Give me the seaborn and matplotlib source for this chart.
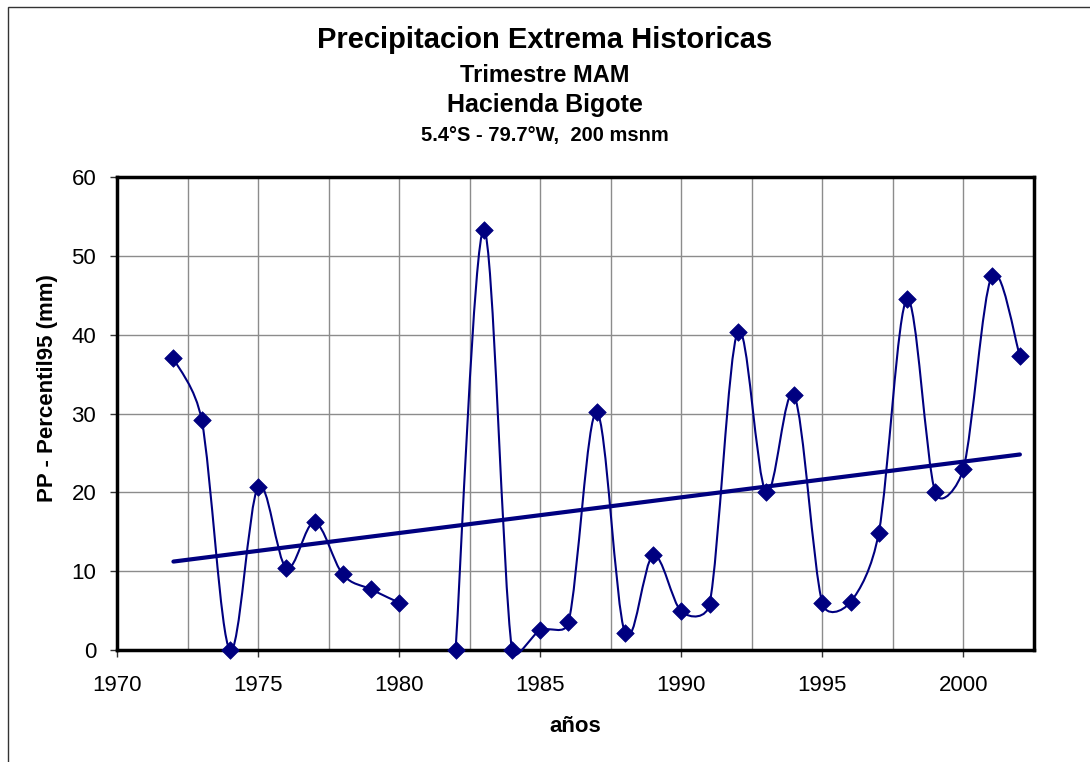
import numpy as np
import matplotlib
matplotlib.use("Agg")
import matplotlib.pyplot as plt
from matplotlib.path import Path
from matplotlib.patches import PathPatch, Rectangle
import seaborn as sns

# Datos (1981 sin dato)
anios = [1972, 1973, 1974, 1975, 1976, 1977, 1978, 1979, 1980,
         1982, 1983, 1984, 1985, 1986, 1987, 1988, 1989, 1990, 1991,
         1992, 1993, 1994, 1995, 1996, 1997, 1998, 1999, 2000, 2001, 2002]
pp = [37.0, 29.2, 0.0, 20.7, 10.4, 16.2, 9.6, 7.7, 6.0,
      0.0, 53.3, 0.0, 2.5, 3.5, 30.2, 2.2, 12.0, 4.9, 5.8,
      40.4, 20.0, 32.3, 5.9, 6.1, 14.9, 44.5, 20.0, 23.0, 47.4, 37.3]

x_ticks = [1970, 1975, 1980, 1985, 1990, 1995, 2000]
y_ticks = [0, 10, 20, 30, 40, 50, 60]

azul = "#000080"

sns.set_theme(style="white")
plt.rcParams["font.family"] = ["Liberation Sans", "DejaVu Sans"]
plt.rcParams["text.color"] = "black"
plt.rcParams["xtick.color"] = "black"
plt.rcParams["ytick.color"] = "black"


def curva_suave(pts):
    # suavizado tipo Excel: bezier con tangentes de Catmull-Rom,
    # limitadas a la mitad del segmento (en pixeles)
    n = len(pts)
    verts = [pts[0]]
    codes = [Path.MOVETO]
    for i in range(n - 1):
        p0 = pts[i - 1] if i > 0 else pts[i]
        p1 = pts[i]
        p2 = pts[i + 1]
        p3 = pts[i + 2] if i + 2 < n else pts[i + 1]
        d12 = np.hypot(*(p2 - p1))
        t1 = p2 - p0
        t2 = p3 - p1
        d02 = np.hypot(*t1)
        d13 = np.hypot(*t2)
        c1 = p1 + (t1 / 6 if d02 / 6 < d12 / 2 else t1 * d12 / (2 * d02))
        c2 = p2 - (t2 / 6 if d13 / 6 < d12 / 2 else t2 * d12 / (2 * d13))
        verts += [c1, c2, p2]
        codes += [Path.CURVE4] * 3
    return verts, codes


fig = plt.figure(figsize=(10.9, 7.62), dpi=100)
ax = fig.add_axes([117 / 1090, 1 - 650 / 762, (1034 - 117) / 1090, (650 - 177) / 762])
ax.set_xlim(1970, 2002.5)
ax.set_ylim(0, 60)

# marco exterior del grafico
fig.patches.append(Rectangle((8 / 1090, -0.1), 1.2, 1 - 7 / 762 + 0.1,
                             transform=fig.transFigure, fill=False,
                             edgecolor="#333333", linewidth=1.0))

# tramos separados por el año sin dato
x_arr = np.array(anios, dtype=float)
y_arr = np.array(pp, dtype=float)
cortes = np.where(np.diff(x_arr) > 1)[0] + 1
for xs, ys in zip(np.split(x_arr, cortes), np.split(y_arr, cortes)):
    pix = ax.transData.transform(np.column_stack([xs, ys]))
    verts, codes = curva_suave(pix)
    verts = ax.transData.inverted().transform(np.array(verts))
    ax.add_patch(PathPatch(Path(verts, codes), facecolor="none", edgecolor=azul,
                           linewidth=1.5, clip_on=False, zorder=3))

sns.scatterplot(x=anios, y=pp, marker="D", s=80, color=azul, edgecolor=azul,
                linewidth=0.5, ax=ax, zorder=4, clip_on=False)

# linea de tendencia lineal
sns.regplot(x=anios, y=pp, scatter=False, ci=None, truncate=True, ax=ax,
            line_kws=dict(color=azul, linewidth=3, zorder=3))

ax.set_xlim(1970, 2002.5)
ax.set_ylim(0, 60)
ax.set_xticks(x_ticks)
ax.set_xticks(np.arange(1972.5, 2002.5, 5), minor=True)
ax.set_yticks(y_ticks)
ax.grid(True, which="both", color="#8c8c8c", linewidth=1.0)
ax.set_axisbelow(True)
ax.tick_params(axis="both", which="major", labelsize=16, length=5, width=1,
               color="#333333", labelcolor="black", direction="out",
               bottom=True, left=True)
ax.tick_params(axis="y", which="major", pad=10)
ax.tick_params(axis="x", which="major", pad=13)
ax.tick_params(axis="x", which="minor", length=0)
for s in ax.spines.values():
    s.set_linewidth(2.5)
    s.set_color("black")

ax.set_xlabel("")
ax.set_ylabel("")
fig.text(575 / 1090, 1 - 727 / 762, "años", ha="center", va="center",
         fontsize=16, fontweight="bold")
fig.text(48 / 1090, 1 - 388 / 762, "PP - Percentil95 (mm)", ha="center", va="center",
         rotation=90, fontsize=16, fontweight="bold")

fig.text(0.5, 1 - 40 / 762, "Precipitacion Extrema Historicas", ha="center",
         va="center", fontsize=21, fontweight="bold")
fig.text(0.5, 1 - 75 / 762, "Trimestre MAM", ha="center", va="center",
         fontsize=17, fontweight="bold")
fig.text(0.5, 1 - 105 / 762, "Hacienda Bigote", ha="center", va="center",
         fontsize=18, fontweight="bold")
fig.text(0.5, 1 - 136 / 762, "5.4°S - 79.7°W,  200 msnm", ha="center", va="center",
         fontsize=14.5, fontweight="bold")

fig.savefig("out.png", dpi=100, facecolor="white")
